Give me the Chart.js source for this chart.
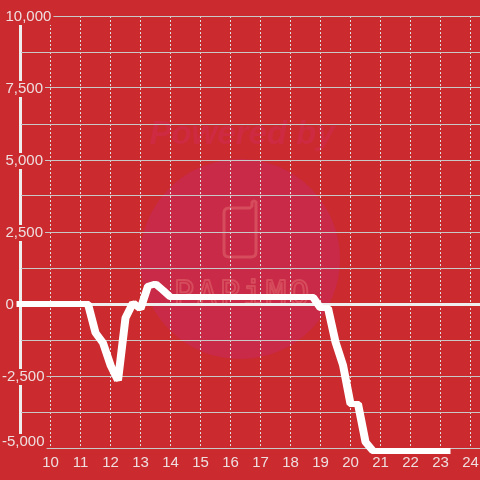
<!DOCTYPE html>
<html>
<head>
<meta charset="utf-8">
<style>
html,body{margin:0;padding:0;background:#cb2a2e;}
#wrap{position:relative;width:480px;height:480px;}
</style>
<script src="https://cdn.jsdelivr.net/npm/chart.js@4/dist/chart.umd.js"></script>
</head>
<body>
<div id="wrap"><canvas id="c" width="480" height="480"></canvas></div>
<script>
const hours = [9,9.25,9.5,9.75,10,10.25,10.5,10.75,11,11.25,11.5,11.75,12,12.25,12.5,12.75,13,13.25,13.5,13.75,14,14.25,14.5,14.75,15,15.25,15.5,15.75,16,16.25,16.5,16.75,17,17.25,17.5,17.75,18,18.25,18.5,18.75,19,19.25,19.5,19.75,20,20.25,20.5,20.75,21,21.25,21.5,21.75,22,22.25,22.5,22.75,23,23.2];
const values = [0,0,0,0,0,0,0,0,0,0,-1000,-1350,-2120,-2650,-480,40,-170,620,700,480,240,240,240,240,240,240,240,240,240,240,240,240,240,240,240,240,240,240,240,240,-140,-140,-1320,-2120,-3470,-3470,-4790,-5100,-5100,-5100,-5100,-5100,-5100,-5100,-5100,-5100,-5100,-5100];
const labelledY = [10000,7500,5000,2500,0,-2500,-5000];

const fontFamily = '"Liberation Sans", Arial, sans-serif';
const textColor = 'rgba(240,232,232,0.95)';

const watermark = {
  id:'watermark',
  beforeDraw(chart){
    const g = chart.ctx;
    g.save();
    g.fillStyle = '#cb2a2e';
    g.fillRect(0,0,480,480);
    g.fillStyle = '#c92a48';
    g.beginPath(); g.arc(240,259,100,0,Math.PI*2); g.fill();
    g.fillStyle = '#ce2b42';
    g.font = 'italic bold 33px ' + fontFamily;
    g.textAlign = 'center'; g.textBaseline = 'alphabetic';
    g.fillText('Powered by',242,144);
    g.strokeStyle = '#d64c5c';
    g.lineWidth = 3;
    g.lineJoin = 'round';
    g.beginPath();
    g.moveTo(229,208);
    g.lineTo(250,208); g.lineTo(252,206); g.lineTo(252,202);
    g.quadraticCurveTo(254,200,256,202);
    g.lineTo(256,252);
    g.quadraticCurveTo(256,257,251,257);
    g.lineTo(229,257);
    g.quadraticCurveTo(224,257,224,252);
    g.lineTo(224,213);
    g.quadraticCurveTo(224,208,229,208);
    g.stroke();
    g.font = '34px "DejaVu Sans Mono", monospace';
    g.textAlign = 'center';
    g.lineWidth = 2;
    const word = 'PAPiMO';
    for (let i=0;i<word.length;i++){
      g.strokeText(word[i],184+i*23,305);
    }
    g.restore();
  }
};

const yLabels = {
  id:'yLabels',
  beforeDatasetsDraw(chart){
    const g = chart.ctx, y = chart.scales.y;
    g.save();
    g.font = '15px ' + fontFamily;
    g.textBaseline = 'middle';
    g.textAlign = 'left';
    labelledY.forEach(v=>{
      const text = v.toLocaleString('en-US');
      const w = g.measureText(text).width;
      const left = v<0 ? 2 : 5.5;
      const cy = y.getPixelForValue(v) + (v===-5000 ? -6 : 1);
      g.fillStyle = '#cb2a2e';
      g.fillRect(left-1, cy-8, w+3, 16);
      g.fillStyle = textColor;
      g.fillText(text,left,cy);
    });
    g.restore();
  }
};

const brush = {
  id:'brush',
  beforeDatasetDraw(chart){
    const g = chart.ctx;
    g.save();
    g.translate(-1,0);
    g.shadowColor = '#ffffff';
    g.shadowOffsetX = 2;
    g.shadowOffsetY = 0;
    g.shadowBlur = 0;
  },
  afterDatasetDraw(chart){
    chart.ctx.restore();
  }
};

new Chart(document.getElementById('c'),{
  type:'line',
  data:{
    labels:hours,
    datasets:[{
      data:hours.map((h,i)=>({x:h,y:values[i]})),
      borderColor:'#ffffff',
      borderWidth:6,
      pointRadius:0,
      tension:0,
      borderCapStyle:'square',
      borderJoinStyle:'bevel',
      clip:false
    }]
  },
  options:{
    responsive:false,
    animation:false,
    devicePixelRatio:1,
    layout:{padding:{left:20.5,top:16,right:0,bottom:0}},
    plugins:{legend:{display:false},tooltip:{enabled:false}},
    scales:{
      x:{
        type:'linear',
        min:9,
        max:24.3167,
        afterFit(s){s.height=32;s.paddingRight=0;s.paddingLeft=0;},
        afterBuildTicks(s){s.ticks=[];for(let h=9;h<=24;h++)s.ticks.push({value:h});},
        border:{display:false,dash:c=>c.tick&&c.tick.value===9?[]:[2,2]},
        grid:{
          drawTicks:false,
          color:c=>c.tick&&c.tick.value===9?'#eeeeee':'#dedede',
          lineWidth:c=>c.tick&&c.tick.value===9?3:1
        },
        ticks:{
          autoSkip:false,
          maxRotation:0,
          padding:6,
          color:textColor,
          font:{family:fontFamily,size:15},
          callback:v=>v===9?'':String(v)
        }
      },
      y:{
        min:-5000,
        max:10000,
        afterFit(s){s.width=0;},
        border:{display:false},
        grid:{
          drawTicks:false,
          color:c=>c.tick&&c.tick.value===0?'#eeeeee':'#c8c8c8',
          lineWidth:c=>c.tick&&c.tick.value===0?3:1
        },
        ticks:{display:false,stepSize:1250}
      }
    }
  },
  plugins:[watermark,yLabels,brush]
});
</script>
</body>
</html>
